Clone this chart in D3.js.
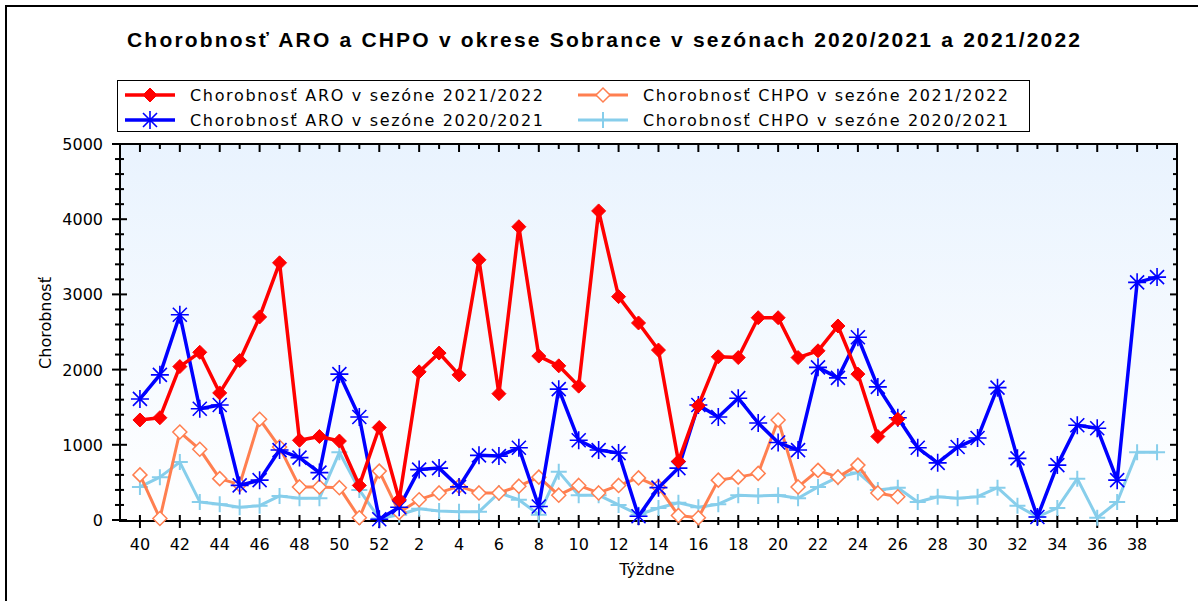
<!DOCTYPE html>
<html>
<head>
<meta charset="utf-8">
<script src="https://cdn.jsdelivr.net/npm/d3@7"></script>
<style>
  body { margin: 0; background: #fff; }
  text { font-family: "DejaVu Sans", Arial, sans-serif; fill: #000; }
</style>
</head>
<body>
<div id="chart"></div>
<script>
// weeks of the season, 40 .. 52 then 1 .. 39
const weeks = [40, 41, 42, 43, 44, 45, 46, 47, 48, 49, 50, 51, 52,
    1, 2, 3, 4, 5, 6, 7, 8, 9, 10, 11, 12, 13, 14, 15, 16, 17, 18, 19, 20,
    21, 22, 23, 24, 25, 26, 27, 28, 29, 30, 31, 32, 33, 34, 35, 36, 37, 38, 39];

// ARO 2021/2022 (weeks 40 .. 26)
const aro2122 = [1330, 1360, 2040, 2230, 1690, 2120, 2700, 3420, 1060, 1110, 1050, 460, 1230,
    270, 1970, 2220, 1930, 3460, 1680, 3900, 2180, 2050, 1780, 4110, 2970, 2620, 2260,
    780, 1520, 2170, 2160, 2690, 2690, 2160, 2250, 2580, 1940, 1110, 1340];

// ARO 2020/2021 (weeks 40 .. 39)
const aro2021 = [1610, 1930, 2730, 1480, 1530, 460, 530, 930, 830, 630, 1940, 1370, 10,
    170, 670, 690, 440, 860, 850, 960, 180, 1740, 1060, 930, 890, 50, 430,
    690, 1530, 1370, 1620, 1290, 1030, 930, 2030, 1890, 2430, 1770, 1360,
    960, 760, 970, 1090, 1760, 820, 40, 730, 1260, 1220, 530, 3160, 3230];

// CHPO 2021/2022 (weeks 40 .. 26)
const chpo2122 = [600, 20, 1170, 940, 550, 470, 1340, 970, 440, 440, 430, 30, 650,
    100, 270, 360, 450, 360, 360, 450, 570, 330, 460, 360, 460, 560, 440,
    60, 30, 530, 570, 620, 1330, 440, 660, 570, 730, 360, 310];

// CHPO 2020/2021 (weeks 40 .. 39)
const chpo2021 = [440, 570, 770, 240, 210, 170, 190, 320, 290, 290, 900, 400, 20,
    70, 150, 120, 110, 110, 360, 270, 70, 640, 330, 330, 200, 70, 160,
    230, 170, 210, 330, 320, 330, 290, 440, 570, 630, 400, 430, 240, 310,
    290, 310, 430, 190, 40, 160, 550, 30, 240, 900, 900];

const yTicks = [0, 1000, 2000, 3000, 4000, 5000];

const title = 'Chorobnosť ARO a CHPO v okrese Sobrance v sezónach 2020/2021 a 2021/2022';

const series = [
    { name: 'Chorobnosť CHPO v sezóne 2020/2021', values: chpo2021, color: '#87ceeb', marker: 'plus', width: 3 },
    { name: 'Chorobnosť CHPO v sezóne 2021/2022', values: chpo2122, color: '#ff7f50', marker: 'odiamond', width: 3 },
    { name: 'Chorobnosť ARO v sezóne 2020/2021', values: aro2021, color: '#0000ff', marker: 'star', width: 3.5 },
    { name: 'Chorobnosť ARO v sezóne 2021/2022', values: aro2122, color: '#ff0000', marker: 'diamond', width: 3.5 }
];

const width = 1198;
const height = 601;
const pLeft = 120, pRight = 1177, pTop = 144, pBottom = 520;

const svg = d3.select('#chart')
    .append('svg')
    .attr('width', width)
    .attr('height', height);

// outer frame
svg.append('rect')
    .attr('x', 6).attr('y', 6)
    .attr('width', 1200).attr('height', 700)
    .attr('fill', 'none')
    .attr('stroke', '#000')
    .attr('stroke-width', 2);

// plot background gradient
const grad = svg.append('defs').append('linearGradient')
    .attr('id', 'bg').attr('x1', 0).attr('y1', 0).attr('x2', 0).attr('y2', 1);
grad.append('stop').attr('offset', '0%').attr('stop-color', '#e9f3fe');
grad.append('stop').attr('offset', '100%').attr('stop-color', '#ffffff');

svg.append('rect')
    .attr('x', pLeft).attr('y', pTop)
    .attr('width', pRight - pLeft).attr('height', pBottom - pTop)
    .attr('fill', 'url(#bg)');

const x = d3.scalePoint()
    .domain(weeks)
    .range([pLeft, pRight])
    .padding(1);

const y = d3.scaleLinear()
    .domain([0, 5000])
    .range([pBottom, pTop]);

// axes lines
const axes = svg.append('g').attr('stroke', '#000').attr('stroke-width', 2);
axes.append('line').attr('x1', pLeft).attr('x2', pLeft).attr('y1', pTop - 1).attr('y2', pBottom + 2);
axes.append('line').attr('x1', pRight).attr('x2', pRight).attr('y1', pTop - 1).attr('y2', pBottom + 2);
axes.append('line').attr('x1', pLeft - 1).attr('x2', pRight + 1).attr('y1', pTop).attr('y2', pTop);
axes.append('line').attr('x1', pLeft - 1).attr('x2', pRight + 1).attr('y1', pBottom + 1).attr('y2', pBottom + 1);

// y ticks every 200
const yMinor = d3.range(0, 5001, 200);
const yt = svg.append('g').attr('stroke', '#000').attr('stroke-width', 2);
yt.selectAll('line.l')
    .data(yMinor)
    .join('line')
    .attr('class', 'l')
    .attr('x1', d => d % 1000 === 0 ? pLeft - 8 : pLeft - 5)
    .attr('x2', d => d % 1000 === 0 ? pLeft + 7 : pLeft + 4)
    .attr('y1', d => y(d)).attr('y2', d => y(d));
yt.selectAll('line.r')
    .data(yMinor)
    .join('line')
    .attr('class', 'r')
    .attr('x1', d => d % 1000 === 0 ? pRight - 7 : pRight - 4)
    .attr('x2', pRight)
    .attr('y1', d => y(d)).attr('y2', d => y(d));

svg.append('g')
    .selectAll('text')
    .data(yTicks)
    .join('text')
    .attr('x', pLeft - 17)
    .attr('y', d => y(d) + 6)
    .attr('text-anchor', 'end')
    .style('font-size', '16px')
    .text(d => d);

// x ticks every week
const xt = svg.append('g').attr('stroke', '#000').attr('stroke-width', 2);
xt.selectAll('line.b')
    .data(weeks)
    .join('line')
    .attr('class', 'b')
    .attr('x1', d => x(d)).attr('x2', d => x(d))
    .attr('y1', d => d % 2 === 0 ? pBottom - 5 : pBottom - 3)
    .attr('y2', d => d % 2 === 0 ? pBottom + 8 : pBottom + 5);
xt.selectAll('line.t')
    .data(weeks)
    .join('line')
    .attr('class', 't')
    .attr('x1', d => x(d)).attr('x2', d => x(d))
    .attr('y1', pTop)
    .attr('y2', d => d % 2 === 0 ? pTop + 8 : pTop + 5);

svg.append('g')
    .selectAll('text')
    .data(weeks.filter(w => w % 2 === 0))
    .join('text')
    .attr('x', d => x(d))
    .attr('y', 550)
    .attr('text-anchor', 'middle')
    .style('font-size', '16px')
    .text(d => d);

// axis titles
svg.append('text')
    .attr('x', 647).attr('y', 575)
    .attr('text-anchor', 'middle')
    .style('font-size', '16px')
    .text('Týždne');

svg.append('text')
    .attr('transform', 'translate(51,323) rotate(-90)')
    .attr('text-anchor', 'middle')
    .style('font-size', '16px')
    .text('Chorobnosť');

// title
svg.append('text')
    .attr('x', 127).attr('y', 47)
    .attr('textLength', 953)
    .attr('lengthAdjust', 'spacing')
    .style('font-family', '"Liberation Sans", Arial, sans-serif')
    .style('font-weight', 'bold')
    .style('font-size', '21px')
    .text(title);

// markers
function drawMarker(g, type, color) {
    if (type === 'diamond') {
        g.append('path').attr('d', 'M0,-7L7,0L0,7L-7,0Z')
            .attr('fill', color).attr('stroke', color).attr('stroke-width', 1);
    } else if (type === 'odiamond') {
        g.append('path').attr('d', 'M0,-7L7,0L0,7L-7,0Z')
            .attr('fill', '#fff').attr('stroke', color).attr('stroke-width', 1.5);
    } else if (type === 'star') {
        g.append('path').attr('d', 'M-9,0L9,0M0,-9L0,9M-7,-7L7,7M-7,7L7,-7')
            .attr('fill', 'none').attr('stroke', color).attr('stroke-width', 1.6);
    } else if (type === 'plus') {
        g.append('path').attr('d', 'M-8,0L8,0M0,-8L0,8')
            .attr('fill', 'none').attr('stroke', color).attr('stroke-width', 2);
    }
}

const line = d3.line()
    .x((d, i) => x(weeks[i]))
    .y(d => y(d));

series.forEach(s => {
    const g = svg.append('g');
    g.append('path')
        .datum(s.values)
        .attr('d', line)
        .attr('fill', 'none')
        .attr('stroke', s.color)
        .attr('stroke-width', s.width)
        .attr('stroke-linejoin', 'round');
    g.selectAll('g.m')
        .data(s.values)
        .join('g')
        .attr('transform', (d, i) => `translate(${x(weeks[i])},${y(d)})`)
        .each(function() { drawMarker(d3.select(this), s.marker, s.color); });
});

// legend
const legend = svg.append('g');
legend.append('rect')
    .attr('x', 117.5).attr('y', 80.5)
    .attr('width', 912).attr('height', 51)
    .attr('fill', '#fff')
    .attr('stroke', '#000')
    .attr('stroke-width', 1);

const legendItems = [
    { s: series[3], x: 125, y: 95 },
    { s: series[1], x: 578, y: 95 },
    { s: series[2], x: 125, y: 120 },
    { s: series[0], x: 578, y: 120 }
];
legendItems.forEach(it => {
    const g = legend.append('g').attr('transform', `translate(${it.x},${it.y})`);
    g.append('line')
        .attr('x1', 0).attr('x2', 50)
        .attr('stroke', it.s.color)
        .attr('stroke-width', it.s.width);
    drawMarker(g.append('g').attr('transform', 'translate(25,0)'), it.s.marker, it.s.color);
    g.append('text')
        .attr('x', 65).attr('y', 6)
        .attr('textLength', it.x < 300 ? 353 : 365)
        .attr('lengthAdjust', 'spacing')
        .style('font-size', '16px')
        .text(it.s.name);
});
</script>
</body>
</html>
